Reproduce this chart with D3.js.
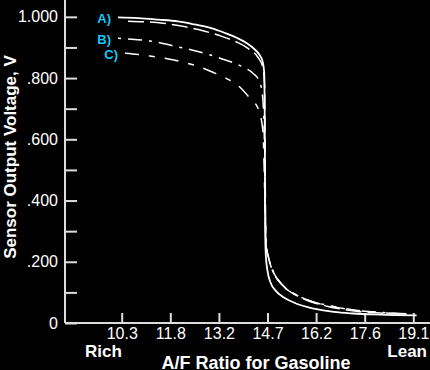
<!DOCTYPE html>
<html>
<head>
<meta charset="utf-8">
<script src="https://cdn.jsdelivr.net/npm/d3@7/dist/d3.min.js"></script>
<style>
  html, body { margin: 0; padding: 0; background: #000; }
  svg { display: block; }
</style>
</head>
<body>
<div class="chart"></div>
<script>
// A/F ratio (x) and sensor voltage (y)
var afA  = [10.19, 10.8, 11.4, 12.0, 12.5, 13.0, 13.4, 13.8, 14.1, 14.3, 14.45, 14.55, 14.6, 14.62, 14.63, 14.65, 14.7, 14.8, 14.95, 15.2, 15.6, 16.1, 16.7, 17.3, 17.9, 18.5, 19.2];
var voltA = [0.998, 0.996, 0.991, 0.985, 0.975, 0.963, 0.948, 0.930, 0.912, 0.895, 0.877, 0.855, 0.82, 0.60, 0.30, 0.22, 0.17, 0.13, 0.105, 0.083, 0.062, 0.047, 0.036, 0.031, 0.028, 0.026, 0.025];

var afA2  = [10.49, 11.0, 11.55, 12.2, 12.81, 13.3, 13.78, 14.1, 14.41, 14.56, 14.61, 14.63, 14.65, 14.72, 14.82, 14.96, 15.23, 15.62, 15.98, 16.49, 17.0, 17.49, 18.2, 19.0];
var voltA2 = [0.986, 0.984, 0.979, 0.968, 0.953, 0.937, 0.917, 0.898, 0.868, 0.835, 0.78, 0.50, 0.27, 0.22, 0.18, 0.150, 0.115, 0.087, 0.070, 0.055, 0.044, 0.037, 0.032, 0.029];

var afB  = [10.19, 10.7, 11.15, 11.91, 12.66, 13.27, 13.96, 14.26, 14.47, 14.56, 14.6, 14.63, 14.66, 14.74, 14.85, 15.0, 15.25, 15.6, 16.0, 16.5, 17.0, 17.5, 18.2, 18.9];
var voltB = [0.930, 0.926, 0.921, 0.904, 0.885, 0.865, 0.836, 0.816, 0.786, 0.73, 0.63, 0.40, 0.25, 0.21, 0.175, 0.145, 0.113, 0.090, 0.072, 0.058, 0.047, 0.040, 0.034, 0.030];

var afC  = [10.40, 10.8, 11.15, 11.91, 12.66, 13.05, 13.51, 13.87, 14.17, 14.41, 14.56, 14.6, 14.63, 14.67, 14.76, 14.9, 15.1, 15.4, 15.8, 16.3, 16.9, 17.5, 18.2, 18.9];
var voltC = [0.881, 0.877, 0.872, 0.858, 0.836, 0.819, 0.796, 0.770, 0.734, 0.702, 0.63, 0.50, 0.35, 0.24, 0.20, 0.16, 0.13, 0.103, 0.080, 0.062, 0.050, 0.040, 0.033, 0.030];

var xTickLabels = ["10.3", "11.8", "13.2", "14.7", "16.2", "17.6", "19.1"];
var yTicks = [0, 0.1, 0.2, 0.3, 0.4, 0.5, 0.6, 0.7, 0.8, 0.9, 1.0];

var series = [
    {name: "A)", af: afA,  volt: voltA,  dash: null,          width: 1.8, label: true},
    {name: "A)", af: afA2, volt: voltA2, dash: "16,6",        width: 1.5, label: false},
    {name: "B)", af: afB,  volt: voltB,  dash: "3,7,14,7",    width: 1.5, label: true},
    {name: "C)", af: afC,  volt: voltC,  dash: "14,10,6,10",  width: 1.5, label: true}
];

var width = 430, height = 370;
var plotLeft = 65, plotRight = 430, plotTop = 0, plotBottom = 323;

var svg = d3.select(".chart")
    .append("svg")
    .attr("width", width)
    .attr("height", height)
    .style("background", "#000");

// 10.3 sits at x=121.7, 19.1 at x=413.3
var x = d3.scaleLinear().domain([8.589, 19.604]).range([plotLeft, plotRight]);
var y = d3.scaleLinear().domain([0, 1.055]).range([plotBottom, plotTop]);

var xTickValues = xTickLabels.map(function(d, i) { return 10.3 + i * (19.1 - 10.3) / 6; });

var fmtY = function(v) {
    if (v === 0) return "0";
    if (Math.round(v * 10) % 2 !== 0) return "";
    var s = d3.format(".3f")(v);
    return s.charAt(0) === "0" ? s.substring(1) : s;
};

var yAxis = svg.append("g")
    .attr("transform", "translate(" + plotLeft + ",0)")
    .call(d3.axisLeft(y).tickValues(yTicks).tickFormat(fmtY).tickSize(-12).tickPadding(7));

var xAxis = svg.append("g")
    .attr("transform", "translate(0," + plotBottom + ")")
    .call(d3.axisBottom(x).tickValues(xTickValues)
        .tickFormat(function(d, i) { return xTickLabels[i]; })
        .tickSize(-10).tickPadding(5));

[yAxis, xAxis].forEach(function(g) {
    g.select(".domain").attr("stroke", "#ddd").attr("stroke-width", 2);
    g.selectAll(".tick line").attr("stroke", "#ddd").attr("stroke-width", 2);
    g.selectAll(".tick text")
        .attr("fill", "#fff")
        .attr("font-family", "Liberation Sans, Arial, sans-serif")
        .attr("font-size", 16);
});
yAxis.select(".domain").attr("d", "M0," + plotTop + "V" + plotBottom);
xAxis.select(".domain").attr("d", "M" + plotLeft + ",0H" + plotRight);

var line = d3.line()
    .x(function(d) { return x(d[0]); })
    .y(function(d) { return y(d[1]); })
    .curve(d3.curveMonotoneX);

svg.selectAll(".series")
    .data(series)
    .enter()
    .append("path")
    .attr("class", "series")
    .attr("d", function(s) { return line(d3.zip(s.af, s.volt)); })
    .attr("fill", "none")
    .attr("stroke", "#fff")
    .attr("stroke-width", function(s) { return s.width; })
    .attr("stroke-dasharray", function(s) { return s.dash; });

svg.selectAll(".lbl")
    .data(series.filter(function(s) { return s.label; }))
    .enter()
    .append("text")
    .attr("class", "lbl")
    .attr("x", function(s) { return x(s.af[0]) - 7; })
    .attr("y", function(s) { return y(s.volt[0]) + 6; })
    .attr("text-anchor", "end")
    .attr("fill", "#19c6f5")
    .attr("font-family", "Liberation Sans, Arial, sans-serif")
    .attr("font-weight", "bold")
    .attr("font-size", 13)
    .text(function(s) { return s.name; });

var bold = function(sel, size) {
    return sel.attr("fill", "#fff")
        .attr("font-family", "Liberation Sans, Arial, sans-serif")
        .attr("font-weight", "bold")
        .attr("font-size", size);
};

bold(svg.append("text"), 17)
    .attr("x", 85).attr("y", 357)
    .text("Rich");

bold(svg.append("text"), 17)
    .attr("x", 427).attr("y", 357)
    .attr("text-anchor", "end")
    .text("Lean");

bold(svg.append("text"), 18)
    .attr("x", 256).attr("y", 369)
    .attr("text-anchor", "middle")
    .text("A/F Ratio for Gasoline");

bold(svg.append("text"), 17)
    .attr("transform", "translate(16,157) rotate(-90)")
    .attr("text-anchor", "middle")
    .text("Sensor Output Voltage, V");
</script>
</body>
</html>
